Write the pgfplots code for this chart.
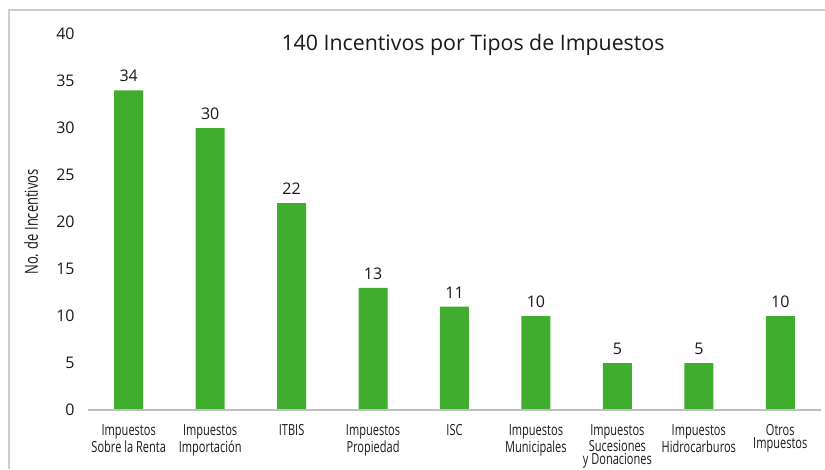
\documentclass[border=0pt]{standalone}
\usepackage{fontspec}
\setmainfont{Open Sans}
\newfontfamily\condfont[FakeStretch=0.72]{Open Sans}
\usepackage{pgfplots}
\pgfplotsset{compat=1.18}

\definecolor{bargreen}{RGB}{65,173,46}
\definecolor{axisgray}{RGB}{191,191,191}
\definecolor{framegray}{RGB}{205,205,205}
\definecolor{txt}{RGB}{25,25,25}

\begin{document}
\begin{tikzpicture}[x=0.75pt,y=0.75pt]
\useasboundingbox (0,0) rectangle (825,469);
\draw[framegray, line width=1pt] (9,0) -- (9,459) -- (825,459);
\node[txt, font=\fontsize{16}{19}\selectfont] at (473,424) {140 Incentivos por Tipos de Impuestos};

\begin{axis}[
    at={(66pt,44.25pt)}, anchor=south west,
    scale only axis, width=549.75pt, height=282pt,
    xmin=-0.5, xmax=8.5, ymin=0, ymax=40,
    ytick={0,5,...,40},
    xtick={0,...,8},
    xticklabels={{Impuestos\\Sobre la Renta},{Impuestos\\Importación},ITBIS,
                 {Impuestos\\Propiedad},ISC,{Impuestos\\Municipales},
                 {Impuestos\\Sucesiones\\y Donaciones},{Impuestos\\Hidrocarburos},
                 {Otros\\Impuestos}},
    /pgf/number format/assume math mode=true,
    axis line style={draw=none},
    tick style={draw=none},
    yticklabel style={font=\fontsize{12}{14}\selectfont, text=txt, xshift=-6.5pt},
    xticklabel style={font=\condfont\fontsize{11.5}{10}\selectfont, text=txt,
                      align=center, yshift=-3pt},
    ylabel={No. de Incentivos},
    every axis y label/.style={at={(axis description cs:-0.0777,0.5)},
        rotate=90, anchor=center, font=\condfont\fontsize{13.5}{16}\selectfont, text=txt},
    ybar, bar width=21.75pt,
    nodes near coords,
    every node near coord/.append style={font=\fontsize{12}{14}\selectfont,
        text=txt, yshift=2.7pt},
    clip=false,
]
\addplot[fill=bargreen, draw=none] coordinates {
    (0,34) (1,30) (2,22) (3,13) (4,11) (5,10) (6,5) (7,5) (8,10)
};
\draw[axisgray, line width=1.6pt] (axis cs:-0.5,0) -- (axis cs:8.5,0);
\end{axis}
\end{tikzpicture}
\end{document}
